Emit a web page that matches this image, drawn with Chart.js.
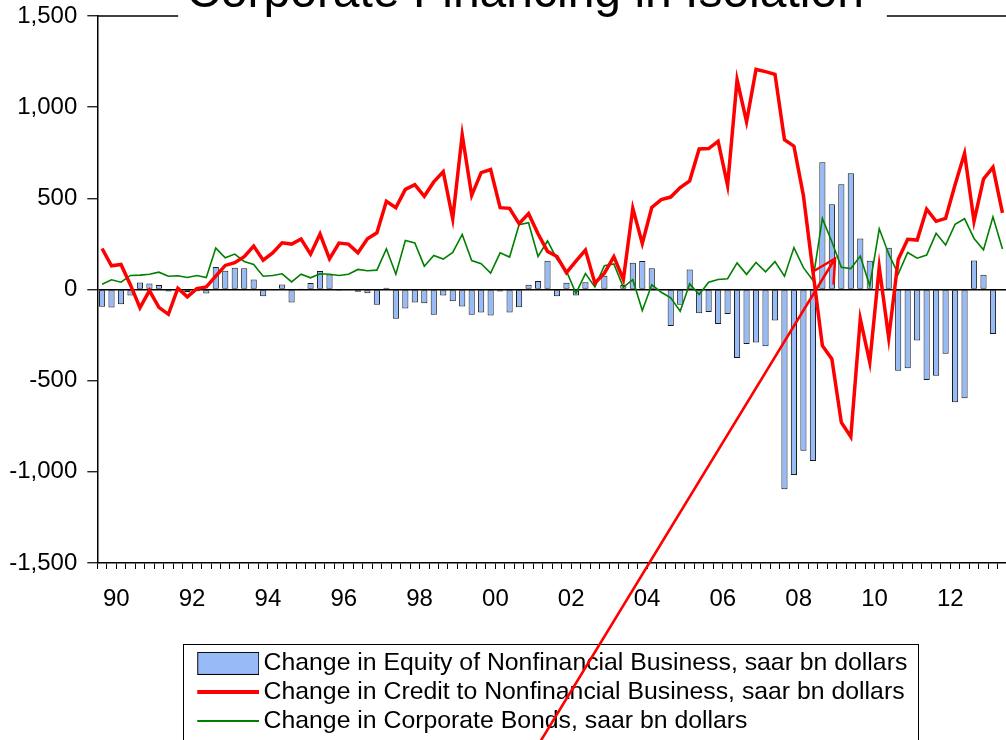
<!DOCTYPE html>
<html>
<head>
<meta charset="utf-8">
<script src="https://cdn.jsdelivr.net/npm/chart.js@4.4.0/dist/chart.umd.min.js"></script>
<style>
  html, body { margin: 0; padding: 0; background: #fff; overflow: hidden; }
  #wrap { position: relative; width: 1006px; height: 740px; overflow: hidden; background: #fff; }
  #chart { position: absolute; left: 0; top: -30px; }
</style>
</head>
<body>
<div id="wrap"><canvas id="chart" width="1050" height="800"></canvas></div>
<script>
// quarterly data, 1990Q1 - 2013Q4, saar bn dollars
const years = [1990, 1991, 1992, 1993, 1994, 1995, 1996, 1997, 1998, 1999, 2000, 2001,
               2002, 2003, 2004, 2005, 2006, 2007, 2008, 2009, 2010, 2011, 2012, 2013];
const quarters = years.flatMap(y => ['Q1', 'Q2', 'Q3', 'Q4'].map(q => y + q));

const equity = [
  -95, -99, -81, -33, 38, 33, 24, -11, -5, -15, -10, -22, 123, 103, 119, 117, 55, -37, -4, 27, -71, 3, 35, 101,
  82, -7, -5, -13, -20, -84, 9, -161, -104, -71, -75, -139, -33, -64, -93, -139, -126, -143, -11, -126, -97, 26, 46, 158,
  -37, 37, -33, 40, 5, 75, 2, 25, 147, 156, 117, -3, -200, -84, 110, -130, -123, -189, -134, -375, -299, -291, -311, -170,
  -1095, -1018, -885, -940, 698, 467, 577, 637, 280, 157, 5, 229, -445, -432, -280, -496, -473, -353, -619, -597, 159, 81, -244, -3
];
const credit = [
  225, 130, 137, 25, -100, -6, -98, -136, 7, -40, 5, 14, 73, 132, 147, 180, 238, 161, 201, 256, 249, 277, 194, 304,
  168, 255, 249, 201, 278, 311, 484, 449, 549, 575, 511, 590, 646, 388, 848, 516, 641, 658, 449, 445, 361, 416, 306, 209,
  181, 92, 155, 216, 35, 90, 180, 55, 445, 253, 450, 493, 507, 559, 596, 771, 773, 813, 571, 1150, 920, 1207, 1195, 1180,
  822, 786, 515, 100, -308, -381, -729, -808, -161, -399, 123, -266, 165, 275, 271, 440, 374, 390, 575, 747, 375, 606, 670, 420
];
const bonds = [
  29, 53, 40, 77, 79, 84, 95, 73, 75, 66, 77, 66, 227, 174, 194, 154, 137, 73, 77, 86, 42, 84, 64, 86,
  84, 77, 84, 110, 103, 106, 223, 84, 269, 255, 128, 187, 167, 203, 302, 159, 141, 90, 201, 178, 355, 366, 181, 266,
  166, 100, -21, 87, 14, 131, 140, 12, 54, -115, 26, -15, -46, -119, 31, -27, 40, 55, 59, 146, 83, 148, 97, 153,
  73, 230, 120, 51, 390, 262, 122, 115, 183, 20, 333, 195, 84, 203, 172, 189, 308, 244, 357, 388, 280, 218, 399, 222
];

const tickYears = [1990, 1992, 1994, 1996, 1998, 2000, 2002, 2004, 2006, 2008, 2010, 2012];
const tickLabels = ['90', '92', '94', '96', '98', '00', '02', '04', '06', '08', '10', '12'];
const yTicks = [-1500, -1000, -500, 0, 500, 1000, 1500];
const yTickLabels = ['-1,500', '-1,000', '-500', '0', '500', '1,000', '1,500'];

// annotation arrow, in (year, value) terms
const arrowTail = { x: 2001.36, y: -2590 };
const arrowHead = { x: 2009.46, y: 170 };

const seriesNames = [
  'Change in Equity of Nonfinancial Business, saar bn dollars',
  'Change in Credit to Nonfinancial Business, saar bn dollars',
  'Change in Corporate Bonds, saar bn dollars'
];
const titleText = 'Corporate Financing in Isolation';

Chart.defaults.font.family = "'Liberation Sans', Arial, Helvetica, sans-serif";
Chart.defaults.color = '#000';

const barFill = '#96bbf7';

function swatch(w, h, fill, stroke, pad) {
  const c = document.createElement('canvas');
  c.width = w + pad;
  c.height = h;
  const g = c.getContext('2d');
  g.fillStyle = fill;
  g.fillRect(pad, 0, w, h);
  if (stroke) {
    g.strokeStyle = stroke;
    g.lineWidth = 1;
    g.strokeRect(pad + 0.5, 0.5, w - 1, h - 1);
  }
  return c;
}
const legendSwatches = [
  swatch(62, 23, barFill, '#000', 8),
  swatch(62, 4, '#ff0000', null, 8),
  swatch(62, 2, '#008000', null, 8)
];

const framePlugin = {
  id: 'frame',
  afterLayout(chart) {
    // keep every legend row starting at the same x
    const lg = chart.legend;
    if (lg && lg.lineWidths && lg.lineWidths.length) {
      const m = Math.max(...lg.lineWidths);
      lg.lineWidths = lg.lineWidths.map(() => m);
    }
  },
  afterDraw(chart) {
    const { ctx, chartArea, scales } = chart;
    ctx.save();

    // top frame, broken by the title
    const tb = chart.titleBlock;
    ctx.font = Chart.helpers.toFont(chart.options.plugins.title.font).string;
    const tw = ctx.measureText(titleText).width;
    const cx = (tb.left + tb.right) / 2;
    ctx.strokeStyle = '#000';
    ctx.lineWidth = 1.5;
    ctx.beginPath();
    ctx.moveTo(chartArea.left, chartArea.top);
    ctx.lineTo(cx - tw / 2 - 8, chartArea.top);
    ctx.moveTo(cx + tw / 2 + 23, chartArea.top);
    ctx.lineTo(chartArea.right, chartArea.top);
    ctx.stroke();

    // legend box
    const hb = chart.legend.legendHitBoxes;
    if (hb && hb.length) {
      const left = hb[0].left - 14;
      const top = hb[0].top - 7.5;
      const right = Math.max(...hb.slice(0, 2).map(h => h.left + h.width)) + 11;
      const last = hb[hb.length - 1];
      const bottom = last.top + last.height + 8;
      ctx.lineWidth = 1;
      ctx.strokeRect(Math.round(left) + 0.5, Math.round(top) + 0.5, Math.round(right - left), Math.round(bottom - top));
    }

    // red arrow
    const x1 = scales.x2.getPixelForValue(arrowTail.x);
    const y1 = scales.y.getPixelForValue(arrowTail.y);
    const x2 = scales.x2.getPixelForValue(arrowHead.x);
    const y2 = scales.y.getPixelForValue(arrowHead.y);
    const ang = Math.atan2(y1 - y2, x1 - x2);
    const len = 25, spread = 28 * Math.PI / 180;
    ctx.strokeStyle = '#ff0000';
    ctx.lineWidth = 2.5;
    ctx.lineCap = 'round';
    ctx.beginPath();
    ctx.moveTo(x1, y1);
    ctx.lineTo(x2, y2);
    ctx.moveTo(x2 + len * Math.cos(ang - spread), y2 + len * Math.sin(ang - spread));
    ctx.lineTo(x2, y2);
    ctx.lineTo(x2 + len * Math.cos(ang + spread), y2 + len * Math.sin(ang + spread));
    ctx.stroke();
    ctx.restore();
  }
};

const data = {
  labels: quarters,
  datasets: [
    {
      type: 'bar',
      label: seriesNames[0],
      data: equity,
      backgroundColor: barFill,
      borderColor: '#1a1a1a',
      borderWidth: 1,
      borderSkipped: false,
      barPercentage: 0.65,
      categoryPercentage: 1.0,
      order: 3
    },
    {
      type: 'line',
      label: seriesNames[1],
      data: credit,
      borderColor: '#ff0000',
      backgroundColor: '#ff0000',
      borderWidth: 3.5,
      pointRadius: 0,
      tension: 0,
      fill: false,
      order: 1
    },
    {
      type: 'line',
      label: seriesNames[2],
      data: bonds,
      borderColor: '#008000',
      backgroundColor: '#008000',
      borderWidth: 1.6,
      pointRadius: 0,
      tension: 0,
      fill: false,
      order: 2
    }
  ]
};

const config = {
  type: 'bar',
  data: data,
  options: {
    responsive: false,
    animation: false,
    devicePixelRatio: 1,
    layout: { padding: { left: 0, right: 0, top: 0, bottom: 26.2 } },
    plugins: {
      tooltip: { enabled: false },
      title: {
        display: true,
        text: titleText,
        color: '#000',
        font: { size: 48, weight: 'normal', lineHeight: 0.8 },
        padding: { top: 4.8, bottom: 2.8 }
      },
      legend: {
        position: 'bottom',
        fullSize: false,
        align: 'center',
        labels: {
          usePointStyle: true,
          pointStyleWidth: 54,
          boxHeight: 24.8,
          padding: 4.2,
          color: '#000',
          font: { size: 24.8 },
          generateLabels: (chart) => {
            const items = Chart.defaults.plugins.legend.labels.generateLabels(chart);
            items.forEach(it => { it.pointStyle = legendSwatches[it.datasetIndex]; });
            return items.sort((a, b) => a.datasetIndex - b.datasetIndex);
          }
        }
      }
    },
    scales: {
      x: {
        type: 'category',
        offset: true,
        weight: 0,
        ticks: { display: false, autoSkip: false },
        grid: { offset: true, drawOnChartArea: false, tickLength: 6, tickColor: '#000', tickWidth: 1 },
        border: { display: true, color: '#000', width: 1.5 }
      },
      x2: {
        type: 'linear',
        position: 'bottom',
        offset: false,
        min: 1990,
        max: 2014,
        weight: 1,
        afterBuildTicks: (axis) => { axis.ticks = tickYears.map(v => ({ value: v + 0.5 })); },
        afterFit: (scale) => { scale.height += 25; },
        ticks: {
          autoSkip: false,
          maxRotation: 0,
          color: '#000',
          font: { size: 24 },
          padding: 8,
          callback: (v, i) => tickLabels[i]
        },
        grid: { display: false, offset: false },
        border: { display: false }
      },
      y: {
        min: -1500,
        max: 1500,
        afterBuildTicks: (axis) => { axis.ticks = yTicks.map(v => ({ value: v })); },
        afterFit: (scale) => { scale.width = 97.3; },
        ticks: {
          color: '#000',
          font: { size: 24 },
          padding: 10,
          callback: (v, i) => yTickLabels[i]
        },
        grid: {
          drawOnChartArea: true,
          color: (c) => (c.tick && c.tick.value === 0 ? '#000' : 'rgba(0,0,0,0)'),
          lineWidth: 1.5,
          tickColor: '#000',
          tickLength: 10,
          tickWidth: 1.2
        },
        border: { display: true, color: '#000', width: 1.5 }
      },
      // empty right-hand strip so the title centres where the original does
      yR: {
        type: 'linear',
        position: 'right',
        min: 0,
        max: 1,
        ticks: { display: false },
        grid: { display: false },
        border: { display: false },
        afterFit: (scale) => { scale.width = 42.8; }
      }
    }
  },
  plugins: [framePlugin]
};

const myChart = new Chart(document.getElementById('chart'), config);
</script>
</body>
</html>
